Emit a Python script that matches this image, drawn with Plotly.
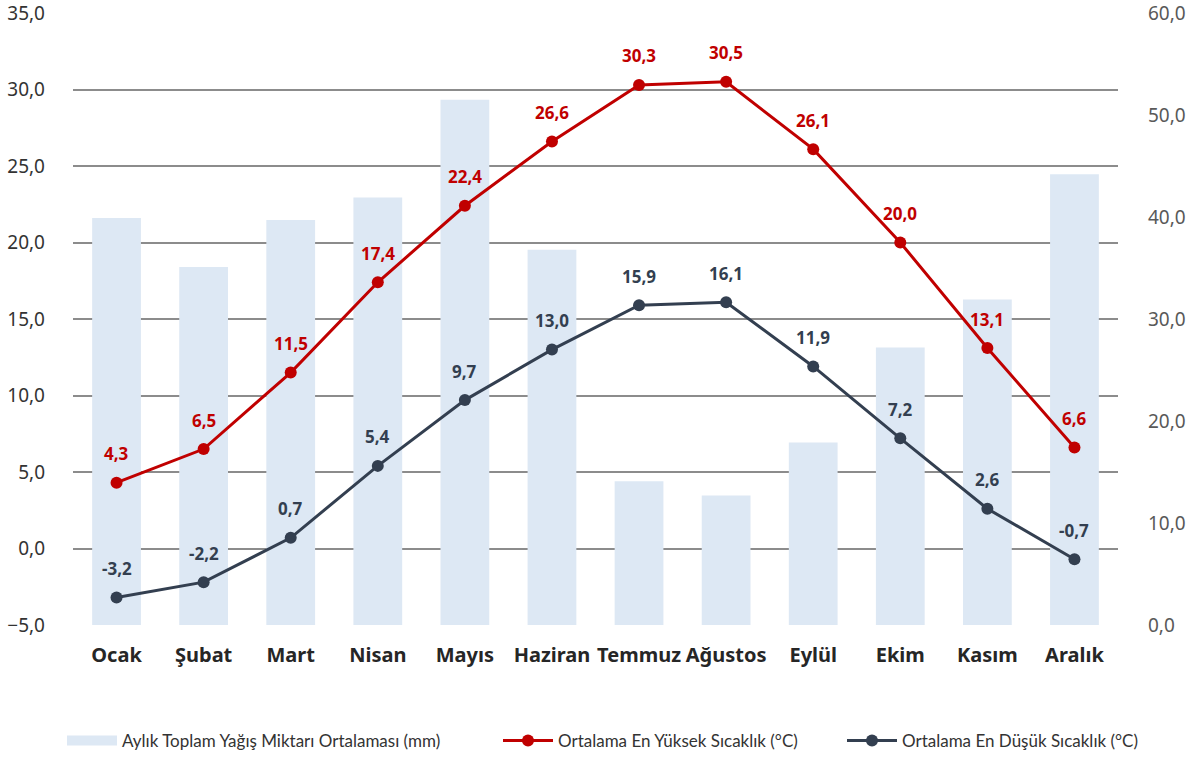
import plotly.graph_objects as go

aylar = ["Ocak", "Şubat", "Mart", "Nisan", "Mayıs", "Haziran",
         "Temmuz", "Ağustos", "Eylül", "Ekim", "Kasım", "Aralık"]
yagis = [39.9, 35.1, 39.7, 41.9, 51.5, 36.8, 14.1, 12.7, 17.9, 27.2, 31.9, 44.2]
en_yuksek = [4.3, 6.5, 11.5, 17.4, 22.4, 26.6, 30.3, 30.5, 26.1, 20.0, 13.1, 6.6]
en_dusuk = [-3.2, -2.2, 0.7, 5.4, 9.7, 13.0, 15.9, 16.1, 11.9, 7.2, 2.6, -0.7]

RED = "#C00000"
SLATE = "#333F50"
BAR = "#DDE8F4"
TICK_FONT = "Noto Sans"
LEG_FONT = "Lato"

fig = go.Figure()

# bars on the main axis (drawn below), lines on the overlaying axis (drawn on top)
fig.add_trace(go.Bar(x=aylar, y=yagis, name="Aylık Toplam Yağış Miktarı Ortalaması (mm)",
                     marker=dict(color=BAR, line=dict(width=0)), yaxis="y",
                     showlegend=False))
# legend-only entry so the bar swatch is a wide strip like the original
fig.add_trace(go.Scatter(x=[None], y=[None], mode="lines",
                         name="Aylık Toplam Yağış Miktarı Ortalaması (mm)",
                         line=dict(color=BAR, width=12), legend="legend"))
fig.add_trace(go.Scatter(x=aylar, y=en_yuksek, name="Ortalama En Yüksek Sıcaklık (°C)",
                         mode="lines+markers", line=dict(color=RED, width=3),
                         marker=dict(size=12, color=RED), yaxis="y2", legend="legend2"))
fig.add_trace(go.Scatter(x=aylar, y=en_dusuk, name="Ortalama En Düşük Sıcaklık (°C)",
                         mode="lines+markers", line=dict(color=SLATE, width=3),
                         marker=dict(size=12, color=SLATE), yaxis="y2", legend="legend3"))

def fmt(v):
    return f"{v:.1f}".replace(".", ",")

for seri, renk in ((en_yuksek, RED), (en_dusuk, SLATE)):
    for ay, v in zip(aylar, seri):
        fig.add_annotation(x=ay, y=v, xref="x", yref="y2", text=fmt(v),
                           showarrow=False, yshift=29, yanchor="middle",
                           font=dict(family=TICK_FONT, size=17, color=renk, weight="bold"))

leg = dict(orientation="h", xref="container", yref="container",
           y=(757 - 741) / 757, yanchor="middle", xanchor="left",
           font=dict(family=LEG_FONT, size=17, color="#333333"),
           itemwidth=50, bgcolor="rgba(0,0,0,0)")

fig.update_layout(
    width=1197, height=757,
    margin=dict(l=73, r=79, t=13, b=132, autoexpand=False),
    plot_bgcolor="white", paper_bgcolor="white",
    separators=",.",
    bargap=0.44,
    font=dict(family=TICK_FONT),
    xaxis=dict(showgrid=False, showline=False, ticks="", automargin=False,
               range=[-0.5, 11.5], tickangle=0, ticklabelstandoff=16,
               tickfont=dict(family=TICK_FONT, size=20, color="#262626", weight="bold")),
    yaxis=dict(range=[0, 60], dtick=10, tickformat=".1f", side="right",
               showgrid=False, zeroline=False, showline=False, automargin=False,
               ticklabelstandoff=29, ticklabeloverflow="allow",
               tickfont=dict(family=TICK_FONT, size=19, color="#595959")),
    yaxis2=dict(range=[-5, 35], dtick=5, tickformat=".1f", side="left",
                overlaying="y", showgrid=True, gridcolor="#8C8C8C", gridwidth=1.5,
                zeroline=False, showline=False, automargin=False, ticklabelstandoff=27,
                ticklabeloverflow="allow",
                tickfont=dict(family=TICK_FONT, size=19, color="#333333")),
    legend=dict(leg, x=62 / 1197),
    legend2=dict(leg, x=498 / 1197),
    legend3=dict(leg, x=842 / 1197),
    showlegend=True,
)

# drop the browser's default body margin so the figure sits at the page corner
fig.write_html("out.html", config={"displayModeBar": False},
               post_script="document.body.style.margin='0';")
